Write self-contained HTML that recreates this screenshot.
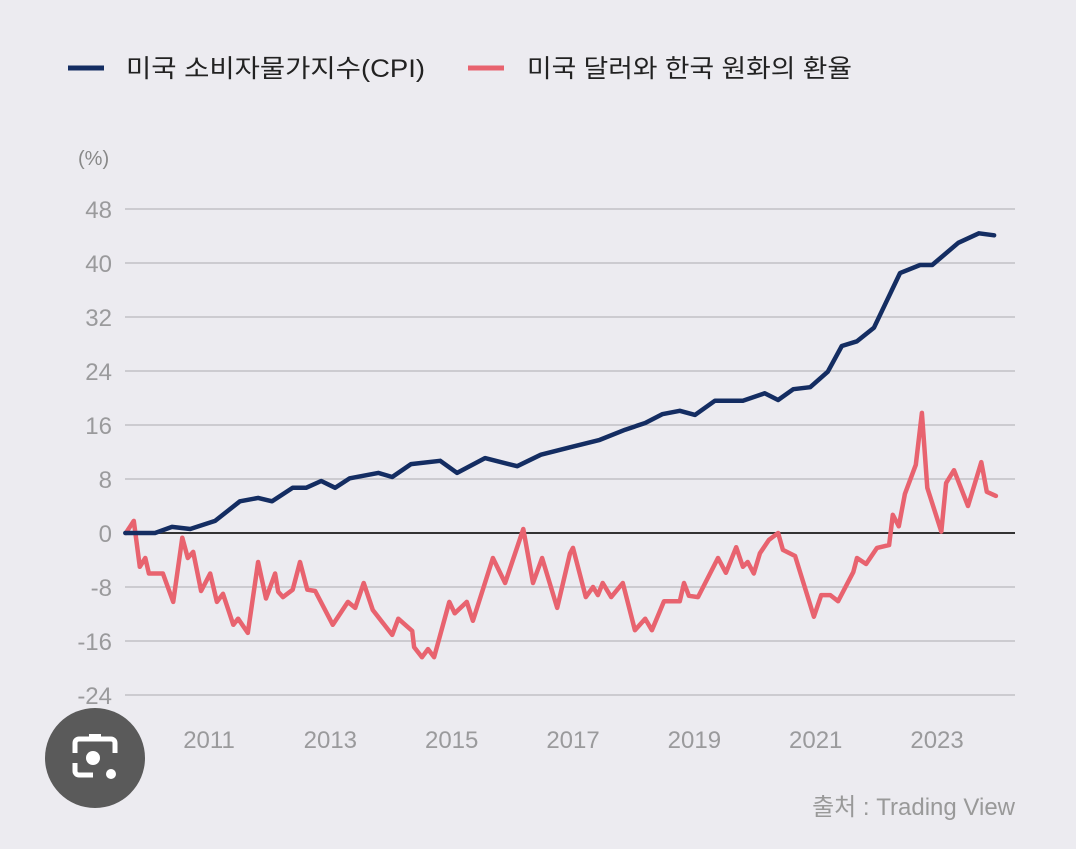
<!DOCTYPE html>
<html><head><meta charset="utf-8">
<style>
html,body{margin:0;padding:0;background:#ecebf0;}
body{width:1076px;height:844px;overflow:hidden;font-family:"Liberation Sans","Noto Sans CJK KR",sans-serif;}
</style></head>
<body>
<svg id="chart" width="1076" height="844" xmlns="http://www.w3.org/2000/svg" font-family="Liberation Sans, Noto Sans CJK KR, sans-serif">
  <rect width="1076" height="844" fill="#ecebf0"/>
  <g>
    <g>
      <line x1="68" y1="68" x2="104" y2="68" stroke="#142d62" stroke-width="5"/>
      <text x="126" y="77" font-size="25" fill="#222" textLength="299" lengthAdjust="spacingAndGlyphs">미국 소비자물가지수(CPI)</text>
    </g>
    <g>
      <line x1="468" y1="68" x2="504" y2="68" stroke="#e8636f" stroke-width="5"/>
      <text x="527" y="77" font-size="25" fill="#222" textLength="325" lengthAdjust="spacingAndGlyphs">미국 달러와 한국 원화의 환율</text>
    </g>
  </g>
  <text x="78" y="165" font-size="20" fill="#888">(%)</text>
  <g id="grid"></g>
  <g id="series"></g>
  <text x="1015" y="815" font-size="24" fill="#999" text-anchor="end">출처 : Trading View</text>
  <g>
    <circle cx="95" cy="758" r="50" fill="#5a5a5a"/>
    <path d="M75 753 v-10 a4 4 0 0 1 4 -4 h32 a4 4 0 0 1 4 4 v10 M75 763 v8 a4 4 0 0 0 4 4 h14" fill="none" stroke="#fff" stroke-width="5"/>
    <rect x="89" y="734" width="12" height="6" fill="#fff"/>
    <circle cx="93" cy="758" r="7" fill="#fff"/>
    <circle cx="111" cy="774" r="5" fill="#fff"/>
  </g>
</svg>
<script>
const yTicks = [48, 40, 32, 24, 16, 8, 0, -8, -16, -24];
const xTicks = [2011, 2013, 2015, 2017, 2019, 2021, 2023];
const cpiDates = [2009.62,2010.11,2010.39,2010.69,2011.10,2011.51,2011.81,2012.04,2012.38,2012.60,2012.85,2013.08,2013.32,2013.79,2014.02,2014.33,2014.81,2015.09,2015.55,2016.08,2016.47,2016.95,2017.44,2017.86,2018.19,2018.47,2018.76,2019.01,2019.34,2019.80,2020.16,2020.38,2020.63,2020.91,2021.20,2021.43,2021.68,2021.96,2022.39,2022.72,2022.92,2023.35,2023.69,2023.94];
const cpiValues = [0,0,0.9,0.6,1.8,4.7,5.2,4.7,6.7,6.7,7.7,6.7,8.1,8.9,8.3,10.2,10.7,8.9,11.1,9.9,11.6,12.7,13.8,15.3,16.3,17.6,18.1,17.5,19.6,19.6,20.7,19.7,21.3,21.6,23.9,27.7,28.4,30.4,38.5,39.7,39.7,43,44.4,44.1];
const fxDates = [2009.63,2009.76,2009.86,2009.95,2010.01,2010.24,2010.41,2010.56,2010.65,2010.74,2010.87,2011.02,2011.13,2011.23,2011.40,2011.48,2011.64,2011.81,2011.94,2012.09,2012.14,2012.22,2012.38,2012.50,2012.62,2012.75,2013.04,2013.29,2013.41,2013.55,2013.70,2014.02,2014.12,2014.35,2014.38,2014.51,2014.61,2014.71,2014.96,2015.05,2015.25,2015.35,2015.68,2015.88,2016.18,2016.34,2016.49,2016.74,2016.95,2017.00,2017.21,2017.33,2017.41,2017.49,2017.63,2017.82,2018.02,2018.19,2018.30,2018.50,2018.76,2018.83,2018.91,2019.06,2019.39,2019.52,2019.69,2019.80,2019.88,2019.98,2020.08,2020.23,2020.38,2020.46,2020.66,2020.97,2021.09,2021.24,2021.37,2021.62,2021.68,2021.83,2022.01,2022.21,2022.27,2022.37,2022.47,2022.65,2022.75,2022.84,2023.07,2023.15,2023.28,2023.51,2023.73,2023.82,2023.97];
const fxValues = [0,1.8,-5,-3.7,-6,-6,-10.2,-0.7,-3.7,-2.8,-8.6,-6,-10.2,-9,-13.6,-12.7,-14.8,-4.3,-9.7,-6,-8.7,-9.5,-8.4,-4.3,-8.4,-8.6,-13.6,-10.2,-11.1,-7.4,-11.4,-15.1,-12.7,-14.5,-16.9,-18.4,-17.2,-18.4,-10.2,-11.9,-10.2,-13,-3.7,-7.4,0.6,-7.4,-3.7,-11.1,-3,-2.2,-9.5,-8,-9.2,-7.4,-9.5,-7.4,-14.4,-12.7,-14.4,-10.1,-10.1,-7.4,-9.3,-9.5,-3.7,-5.9,-2.1,-5,-4.3,-6,-3,-1,0,-2.5,-3.4,-12.4,-9.2,-9.2,-10.1,-5.8,-3.7,-4.6,-2.2,-1.8,2.7,1.0,5.8,10.1,17.8,6.7,0.2,7.4,9.3,4,10.5,6.1,5.5];

const NS = 'http://www.w3.org/2000/svg';
const X0 = 125, X1 = 1015;
function xScale(year){ return 209 + (year - 2011) * 60.67; }
function yScale(v){ return 533 - v * 6.75; }
const grid = document.getElementById('grid');
const series = document.getElementById('series');

yTicks.forEach(t => {
  if (t !== 0) {
    const l = document.createElementNS(NS, 'line');
    
    
    l.setAttribute('x1', X0); l.setAttribute('x2', X1);
    l.setAttribute('y1', yScale(t)); l.setAttribute('y2', yScale(t));
    l.setAttribute('stroke', '#b9b8bd'); l.setAttribute('stroke-width', '1.3');
    grid.appendChild(l);
  }
  const tx = document.createElementNS(NS, 'text');
  
  
  tx.setAttribute('x', 112); tx.setAttribute('y', yScale(t) + 9);
  tx.setAttribute('text-anchor', 'end'); tx.setAttribute('font-size', '24'); tx.setAttribute('fill', '#9a9a9c');
  tx.textContent = t;
  grid.appendChild(tx);
});
xTicks.forEach(t => {
  const tx = document.createElementNS(NS, 'text');
  
  
  tx.setAttribute('x', xScale(t)); tx.setAttribute('y', 748);
  tx.setAttribute('text-anchor', 'middle'); tx.setAttribute('font-size', '24'); tx.setAttribute('fill', '#9a9a9c');
  tx.textContent = t;
  grid.appendChild(tx);
});
const zero = document.createElementNS(NS, 'line');


zero.setAttribute('x1', X0); zero.setAttribute('x2', X1);
zero.setAttribute('y1', yScale(0)); zero.setAttribute('y2', yScale(0));
zero.setAttribute('stroke', '#333'); zero.setAttribute('stroke-width', '2');
grid.appendChild(zero);

function drawLine(dates, vals, color, name){
  const p = document.createElementNS(NS, 'polyline');
  
  
  p.setAttribute('points', dates.map((d,i) => xScale(d).toFixed(1) + ',' + yScale(vals[i]).toFixed(1)).join(' '));
  p.setAttribute('fill', 'none'); p.setAttribute('stroke', color);
  p.setAttribute('stroke-width', '4.5'); p.setAttribute('stroke-linejoin', 'round'); p.setAttribute('stroke-linecap', 'round');
  series.appendChild(p);
}
drawLine(fxDates, fxValues, '#e8636f', 'fx-rate-line');
drawLine(cpiDates, cpiValues, '#142d62', 'cpi-line');
</script>
</body></html>
